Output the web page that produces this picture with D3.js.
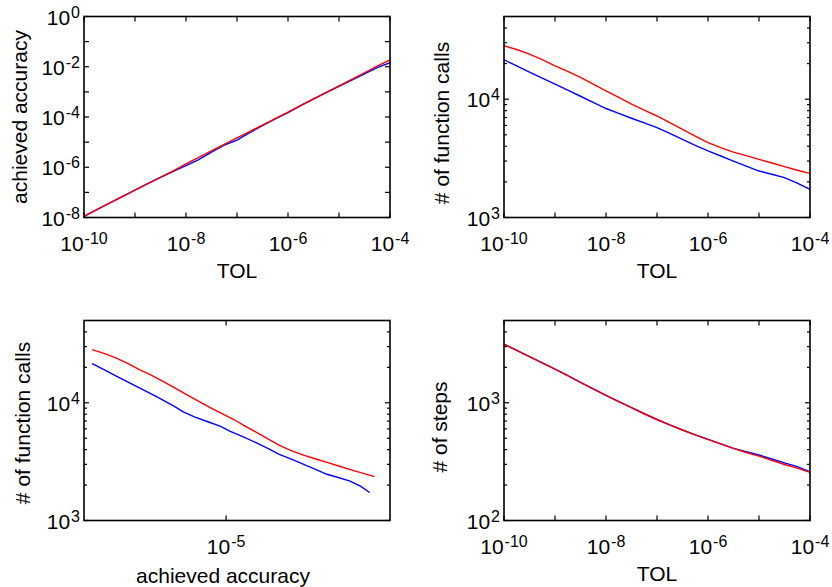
<!DOCTYPE html>
<html lang="en">
  <head>
    <meta charset="utf-8"/>
    <title>TOL study</title>
    <script src="https://cdn.jsdelivr.net/npm/d3@7/dist/d3.min.js"></script>
    <style>
      body { margin: 0; background: #fff; }
      text { font-family: "Liberation Sans", Arial, Helvetica, sans-serif; fill: #000; }
    </style>
  </head>
  <body>
    <div id="chart-holder"></div>
    <script type="text/javascript">

      // requested tolerance (quarter decades from 1e-10 to 1e-4)
      var tol = [1e-10, 1.78e-10, 3.16e-10, 5.62e-10, 1e-9, 1.78e-9, 3.16e-9, 5.62e-9,
                 1e-8, 1.78e-8, 3.16e-8, 5.62e-8, 1e-7, 1.78e-7, 3.16e-7, 5.62e-7,
                 1e-6, 1.78e-6, 3.16e-6, 5.62e-6, 1e-5, 1.78e-5, 3.16e-5, 5.62e-5, 1e-4];

      // achieved accuracy, red and blue method
      var accRed  = [1.12e-8, 2.04e-8, 3.72e-8, 6.76e-8, 1.23e-7, 2.24e-7, 3.98e-7, 7.24e-7,
                     1.35e-6, 2.45e-6, 4.47e-6, 8.13e-6, 1.48e-5, 2.63e-5, 4.79e-5, 8.71e-5,
                     1.58e-4, 2.88e-4, 5.25e-4, 9.55e-4, 1.74e-3, 3.16e-3, 5.75e-3, 1.05e-2, 1.86e-2];
      var accBlue = [1.12e-8, 2.04e-8, 3.72e-8, 6.76e-8, 1.23e-7, 2.24e-7, 3.98e-7, 6.92e-7,
                     1.17e-6, 2.0e-6, 3.98e-6, 7.59e-6, 1.20e-5, 2.40e-5, 4.57e-5, 8.51e-5,
                     1.48e-4, 2.82e-4, 5.13e-4, 9.33e-4, 1.66e-3, 2.95e-3, 5.2e-3, 9.3e-3, 1.45e-2];

      // number of function calls
      var callsRed  = [28310, 26300, 24040, 21630, 19140, 17180, 15280, 13430, 11750, 10350,
                       9080, 8090, 7210, 6340, 5570, 4880, 4300, 3890, 3570, 3330,
                       3100, 2890, 2690, 2510, 2360];
      var callsBlue = [21530, 19100, 16940, 15070, 13400, 11910, 10590, 9400, 8340, 7590,
                       6900, 6310, 5750, 5130, 4580, 4070, 3650, 3310, 3000, 2720,
                       2470, 2320, 2170, 1950, 1730];

      // number of steps
      var stepsRed  = [3148, 2786, 2466, 2178, 1928, 1698, 1493, 1312, 1156, 1023,
                       908, 807, 721, 650, 587, 533, 488, 447, 410, 378,
                       352, 325, 299, 279, 256];
      var stepsBlue = [3148, 2786, 2466, 2178, 1928, 1698, 1493, 1312, 1156, 1023,
                       908, 807, 721, 650, 587, 533, 488, 447, 410, 385,
                       360, 333, 309, 287, 260];

      var colRed = "#ff0000";
      var colBlue = "#0000ff";

      var svg = d3.select("#chart-holder")
        .append("svg")
        .attr("width", 832)
        .attr("height", 587)
      ;

      // powers of ten between a and b
      function decades(a, b) {
        var out = [];
        for (var e = Math.ceil(Math.log10(a) - 1e-9); e <= Math.floor(Math.log10(b) + 1e-9); e++) out.push(Math.pow(10, e));
        return out;
      }
      // 2..9 multiples inside the domain
      function minors(a, b) {
        var out = [];
        for (var e = Math.floor(Math.log10(a)); e <= Math.ceil(Math.log10(b)); e++) {
          for (var m = 2; m <= 9; m++) {
            var v = m * Math.pow(10, e);
            if (v > a * 1.0001 && v < b * 0.9999) out.push(v);
          }
        }
        return out;
      }

      // "10" with a raised exponent
      function powLabel(sel, v) {
        var e = Math.round(Math.log10(v));
        sel.text("10");
        sel.append("tspan")
          .attr("dy", -7)
          .attr("dx", 1)
          .style("font-size", "16px")
          .text(e < 0 ? "-" + (-e) : e);
      }

      var panels = [
        { box: [84, 390, 16.5, 217.5], xd: [1e-10, 1e-4], yd: [1e-8, 1],
          xs: [tol, tol], ys: [accBlue, accRed],
          xTicks: decades(1e-10, 1e-4), xLab: [1e-10, 1e-8, 1e-6, 1e-4], xMinor: [],
          yTicks: decades(1e-8, 1), yLab: [1e-8, 1e-6, 1e-4, 1e-2, 1], yMinor: [],
          xTitle: "TOL", xTitlePos: [237, 278], yTitle: "achieved accuracy", yTitlePos: [27, 117] },
        { box: [504, 810, 16.5, 217.5], xd: [1e-10, 1e-4], yd: [1e3, 5e4],
          xs: [tol, tol], ys: [callsBlue, callsRed],
          xTicks: decades(1e-10, 1e-4), xLab: [1e-10, 1e-8, 1e-6, 1e-4], xMinor: [],
          yTicks: [1e3, 1e4], yLab: [1e3, 1e4], yMinor: minors(1e3, 5e4),
          xTitle: "TOL", xTitlePos: [657, 278], yTitle: "# of function calls", yTitlePos: [449, 123] },
        { box: [84, 390, 320.5, 520.5], xd: [Math.pow(10, -8.13), Math.pow(10, -1.39)], yd: [1e3, 5e4],
          xs: [accBlue, accRed], ys: [callsBlue, callsRed],
          xTicks: [1e-5], xLab: [1e-5], xMinor: [],
          yTicks: [1e3, 1e4], yLab: [1e3, 1e4], yMinor: minors(1e3, 5e4),
          xTitle: "achieved accuracy", xTitlePos: [223, 583], yTitle: "# of function calls", yTitlePos: [30, 423] },
        { box: [504, 810, 320.5, 520.5], xd: [1e-10, 1e-4], yd: [1e2, 5e3],
          xs: [tol, tol], ys: [stepsBlue, stepsRed],
          xTicks: decades(1e-10, 1e-4), xLab: [1e-10, 1e-8, 1e-6, 1e-4], xMinor: [],
          yTicks: [1e2, 1e3], yLab: [1e2, 1e3], yMinor: minors(1e2, 5e3),
          xTitle: "TOL", xTitlePos: [657, 581], yTitle: "# of steps", yTitlePos: [447, 427] }
      ];

      panels.forEach(function(p, i) {
        var x0 = p.box[0], x1 = p.box[1], y0 = p.box[2], y1 = p.box[3];
        var x = d3.scaleLog().domain(p.xd).range([x0, x1]);
        var y = d3.scaleLog().domain(p.yd).range([y1, y0]);
        var g = svg.append("g").attr("class", "panel");

        g.append("clipPath").attr("id", "clip" + i)
          .append("rect").attr("x", x0).attr("y", y0).attr("width", x1 - x0).attr("height", y1 - y0);

        // data lines, blue first then red on top
        var colours = [colBlue, colRed];
        p.ys.forEach(function(ys, k) {
          var pts = ys.map(function(v, j) { return [p.xs[k][j], v]; });
          g.append("path")
            .datum(pts)
            .attr("clip-path", "url(#clip" + i + ")")
            .attr("fill", "none")
            .attr("stroke", colours[k])
            .attr("stroke-width", 1.4)
            .attr("d", d3.line().x(function(d) { return x(d[0]); }).y(function(d) { return y(d[1]); }));
        });

        // inward ticks on all four sides
        var ticks = g.append("g").attr("stroke", "#000").attr("stroke-width", 1.2);
        function xTick(v, len) {
          ticks.append("line").attr("x1", x(v)).attr("x2", x(v)).attr("y1", y1).attr("y2", y1 - len);
          ticks.append("line").attr("x1", x(v)).attr("x2", x(v)).attr("y1", y0).attr("y2", y0 + len);
        }
        function yTick(v, len) {
          ticks.append("line").attr("y1", y(v)).attr("y2", y(v)).attr("x1", x0).attr("x2", x0 + len);
          ticks.append("line").attr("y1", y(v)).attr("y2", y(v)).attr("x1", x1).attr("x2", x1 - len);
        }
        p.xTicks.forEach(function(v) { xTick(v, 5); });
        p.xMinor.forEach(function(v) { xTick(v, 3); });
        p.yTicks.forEach(function(v) { yTick(v, 5); });
        p.yMinor.forEach(function(v) { yTick(v, 3); });

        // frame
        g.append("rect")
          .attr("x", x0).attr("y", y0).attr("width", x1 - x0).attr("height", y1 - y0)
          .attr("fill", "none").attr("stroke", "#000").attr("stroke-width", 1.6);

        // tick labels
        p.xLab.forEach(function(v) {
          g.append("text")
            .attr("x", x(v)).attr("y", y1 + 33)
            .attr("text-anchor", "middle")
            .style("font-size", "21px")
            .call(powLabel, v);
        });
        p.yLab.forEach(function(v) {
          g.append("text")
            .attr("x", x0 - 4).attr("y", y(v) + 8)
            .attr("text-anchor", "end")
            .style("font-size", "21px")
            .call(powLabel, v);
        });

        // axis titles
        g.append("text")
          .attr("x", p.xTitlePos[0]).attr("y", p.xTitlePos[1])
          .attr("text-anchor", "middle")
          .style("font-size", "21px")
          .text(p.xTitle);
        g.append("text")
          .attr("transform", "translate(" + p.yTitlePos[0] + "," + p.yTitlePos[1] + ")rotate(-90)")
          .attr("text-anchor", "middle")
          .style("font-size", "21px")
          .text(p.yTitle);
      });
    </script>
  </body>
</html>
